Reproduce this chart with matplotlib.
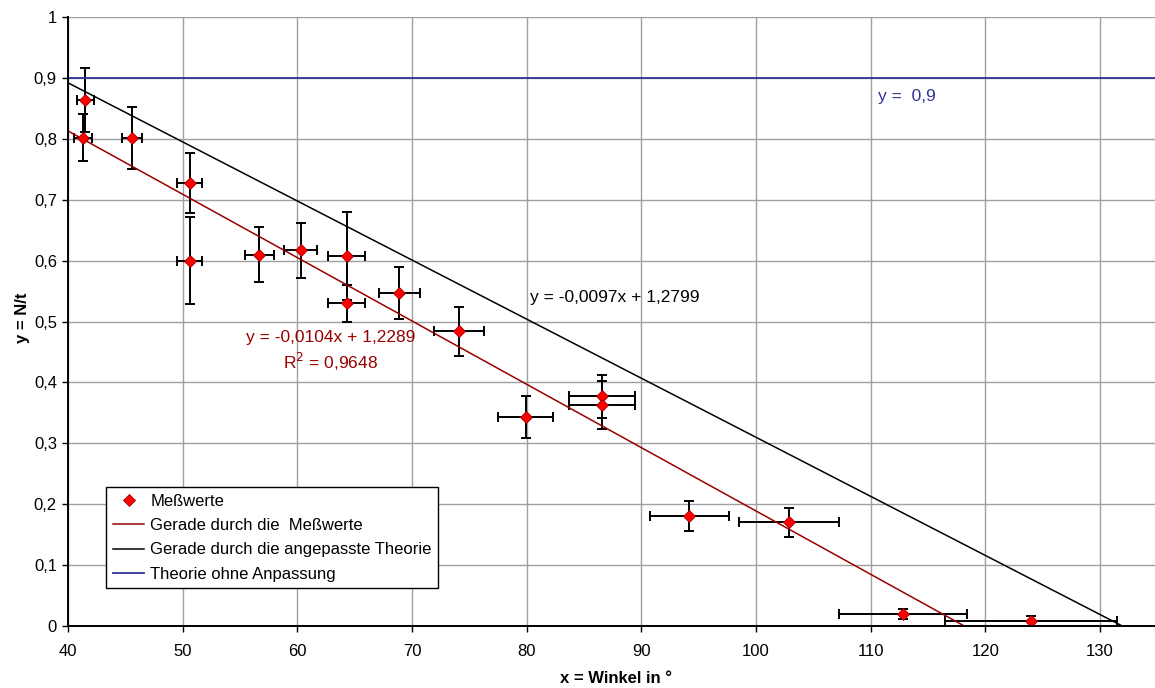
import numpy as np
import matplotlib.pyplot as plt
from matplotlib.ticker import FuncFormatter

plt.rcParams['font.family'] = ['Liberation Sans', 'DejaVu Sans']

# Messwerte: Winkel, N/t und Fehler
winkel = [41.5, 41.3, 45.6, 50.6, 50.6, 56.7, 60.3, 64.3, 64.3, 68.9,
          74.1, 79.9, 86.6, 86.6, 94.2, 102.9, 112.8, 124.0]
rate = [0.864, 0.802, 0.801, 0.727, 0.600, 0.610, 0.617, 0.608, 0.530, 0.547,
        0.484, 0.343, 0.377, 0.363, 0.181, 0.170, 0.020, 0.008]
winkel_err = [0.75, 0.75, 0.87, 1.06, 1.06, 1.28, 1.45, 1.6, 1.6, 1.82,
              2.15, 2.41, 2.88, 2.88, 3.47, 4.35, 5.57, 7.5]
rate_err = [0.053, 0.038, 0.051, 0.049, 0.071, 0.045, 0.045, 0.072, 0.030, 0.043,
            0.040, 0.034, 0.035, 0.040, 0.025, 0.024, 0.008, 0.009]

# Geraden y = m*x + b
fit_m, fit_b = -0.0104, 1.2289
theo_m, theo_b = -0.0097, 1.2799
theo_const = 0.9

dark_red = '#990000'
blue = '#333399'

fig = plt.figure(figsize=(11.55, 6.88), dpi=100)
ax = fig.add_axes([68 / 1155, 62 / 688, 1 - 68 / 1155, 609 / 688])

x_fit = np.array([40, -fit_b / fit_m])
x_theo = np.array([40, -theo_b / theo_m])

ax.errorbar(winkel, rate, xerr=winkel_err, yerr=rate_err, fmt='none',
            ecolor='black', elinewidth=1.4, capsize=3.5, capthick=1.4, zorder=3)
ax.plot(x_fit, fit_m * x_fit + fit_b, color=dark_red, lw=1.1, zorder=4,
        label='Gerade durch die  Meßwerte')
ax.plot(x_theo, theo_m * x_theo + theo_b, color='black', lw=1.1, zorder=4,
        label='Gerade durch die angepasste Theorie')
ax.axhline(theo_const, color=blue, lw=1.3, zorder=4, label='Theorie ohne Anpassung')
pts, = ax.plot(winkel, rate, 'D', color='red', mec=dark_red, mew=0.6, ms=6,
               zorder=5, label='Meßwerte')

ax.text(110.6, 0.869, 'y =  0,9', color=blue, fontsize=12.5, va='center')
ax.text(80.3, 0.539, 'y = -0,0097x + 1,2799', color='black', fontsize=12.5, va='center')
ax.text(62.9, 0.473, 'y = -0,0104x + 1,2289', color=dark_red, fontsize=12.5,
        va='center', ha='center')
ax.text(62.9, 0.434, 'R$^2$ = 0,9648', color=dark_red, fontsize=12.5,
        va='center', ha='center')

ax.set_xlim(40, 134.8)
ax.set_ylim(0, 1)
ax.set_xticks(np.arange(40, 131, 10))
ax.set_yticks(np.arange(0, 1.01, 0.1))
ax.yaxis.set_major_formatter(FuncFormatter(
    lambda v, p: '0' if v == 0 else ('1' if abs(v - 1) < 1e-9 else ('%.1f' % v).replace('.', ','))))
ax.tick_params(labelsize=12, length=4, width=1, direction='out')
ax.tick_params(axis='x', pad=9)
ax.tick_params(axis='y', pad=4)
ax.grid(True, color='#a0a0a0', lw=1, zorder=0)

for side in ['top', 'right']:
    ax.spines[side].set_visible(False)
for side in ['left', 'bottom']:
    ax.spines[side].set_linewidth(1.4)
    ax.spines[side].set_zorder(6)

ax.set_xlabel('x = Winkel in °', fontsize=12, fontweight='bold')
ax.set_ylabel('y = N/t', fontsize=12, fontweight='bold')
ax.xaxis.set_label_coords(0.504, -0.074)
ax.yaxis.set_label_coords(-0.035, 0.506)

handles, labels = ax.get_legend_handles_labels()
order = [3, 0, 1, 2]
leg = ax.legend([handles[i] for i in order], [labels[i] for i in order],
                loc='lower left', bbox_to_anchor=(0.035, 0.062), fontsize=12,
                frameon=True, fancybox=False, edgecolor='black', framealpha=1,
                handlelength=1.9, handletextpad=0.35, borderpad=0.4,
                labelspacing=0.55, borderaxespad=0)
leg.get_frame().set_linewidth(1.0)
leg.set_zorder(10)

fig.savefig('out.png', dpi=100)
